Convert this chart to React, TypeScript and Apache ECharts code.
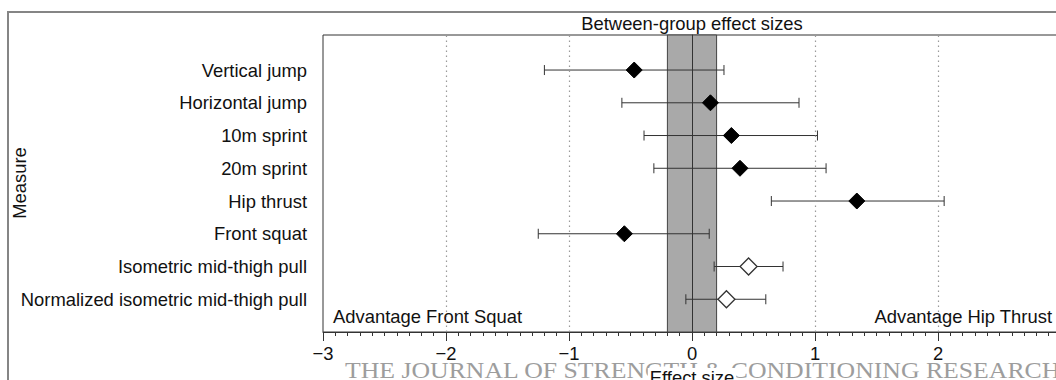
import React, { useEffect, useRef } from "react";
import * as echarts from "echarts";

const categories = [
  "Vertical jump",
  "Horizontal jump",
  "10m sprint",
  "20m sprint",
  "Hip thrust",
  "Front squat",
  "Isometric mid-thigh pull",
  "Normalized isometric mid-thigh pull",
];
const effectSize = [-0.47, 0.15, 0.32, 0.39, 1.34, -0.55, 0.46, 0.28];
const lowerCI = [-1.2, -0.57, -0.39, -0.31, 0.645, -1.25, 0.18, -0.05];
const upperCI = [0.26, 0.87, 1.02, 1.09, 2.05, 0.14, 0.74, 0.6];
const openMarker = [false, false, false, false, false, false, true, true];
const referenceLines = [-2, -1, 1, 2];
const trivialBand = [-0.2, 0.2];
const xRange = [-3, 3];

const titleText = "Between-group effect sizes";
const xName = "Effect size";
const yName = "Measure";
const leftNote = "Advantage Front Squat";
const rightNote = "Advantage Hip Thrust";
const watermark = "THE JOURNAL OF STRENGTH & CONDITIONING RESEARCH";

const FONT = "'Liberation Sans', Arial, Helvetica, sans-serif";
const FS = 18.4;

export default function App() {
  const ref = useRef<HTMLDivElement>(null);

  useEffect(() => {
    if (!ref.current) return;
    const chart = echarts.init(ref.current, undefined, { renderer: "svg" });
    const n = categories.length;
    const yOf = (i: number) => n - i;
    const positions = categories.map((_, i) => yOf(i));

    const errData = categories.map((_, i) => [lowerCI[i], upperCI[i], yOf(i)]);
    const filled = categories
      .map((_, i) => (openMarker[i] ? null : [effectSize[i], yOf(i)]))
      .filter((d) => d !== null);
    const open = categories
      .map((_, i) => (openMarker[i] ? [effectSize[i], yOf(i)] : null))
      .filter((d) => d !== null);

    const fmt = (v: number) =>
      v >= xRange[1] ? "" : v < 0 ? "\u2212" + Math.abs(v) : String(v);

    chart.setOption({
      animation: false,
      textStyle: { fontFamily: FONT },
      grid: {
        left: 323,
        top: 35,
        right: -5,
        bottom: 48,
        containLabel: false,
        outerBoundsMode: "none",
        show: true,
        borderColor: "#333",
        borderWidth: 1,
        backgroundColor: "transparent",
      },
      xAxis: {
        type: "value",
        min: xRange[0],
        max: xRange[1],
        interval: 1,
        axisLine: { show: true, lineStyle: { color: "#333", width: 1 } },
        axisTick: { show: true, length: 9, lineStyle: { color: "#333" } },
        minorTick: { show: true, splitNumber: 10, length: 4, lineStyle: { color: "#333" } },
        splitLine: { show: false },
        axisLabel: {
          formatter: fmt,
          fontSize: FS,
          color: "#111",
          margin: 12,
          fontFamily: FONT,
          showMaxLabel: false,
        },
      },
      yAxis: {
        type: "value",
        min: 0,
        max: 9.07,
        interval: 1,
        axisLine: { show: true, lineStyle: { color: "#333", width: 1 } },
        axisTick: {
          show: true,
          length: 11,
          customValues: positions,
          lineStyle: { color: "#333" },
        },
        splitLine: { show: false },
        axisLabel: {
          customValues: positions,
          formatter: (v: number) => categories[n - Math.round(v)] ?? "",
          fontSize: FS,
          color: "#111",
          margin: 16,
          fontFamily: FONT,
        },
      },
      series: [
        {
          type: "line",
          data: [],
          z: 1,
          silent: true,
          markArea: {
            silent: true,
            itemStyle: { color: "#a9a9a9", borderColor: "#444", borderWidth: 1 },
            data: [[{ xAxis: trivialBand[0] }, { xAxis: trivialBand[1] }]],
          },
          markLine: {
            silent: true,
            symbol: ["none", "none"],
            label: { show: false },
            data: [
              ...referenceLines.map((v) => ({
                xAxis: v,
                lineStyle: { type: [1.5, 3.5], color: "#9a9a9a", width: 1.2 },
              })),
              { xAxis: 0, lineStyle: { type: "solid", color: "#333", width: 1 } },
            ],
          },
        },
        {
          type: "custom",
          z: 3,
          data: errData,
          encode: { x: [0, 1], y: 2 },
          renderItem: (params: any, api: any) => {
            const lo = api.coord([api.value(0), api.value(2)]);
            const hi = api.coord([api.value(1), api.value(2)]);
            const h = 5;
            const st = { stroke: "#333", lineWidth: 1 };
            return {
              type: "group",
              children: [
                { type: "line", shape: { x1: lo[0], y1: lo[1], x2: hi[0], y2: hi[1] }, style: st },
                { type: "line", shape: { x1: lo[0], y1: lo[1] - h, x2: lo[0], y2: lo[1] + h }, style: st },
                { type: "line", shape: { x1: hi[0], y1: hi[1] - h, x2: hi[0], y2: hi[1] + h }, style: st },
              ],
            };
          },
        },
        {
          type: "scatter",
          z: 4,
          symbol: "diamond",
          symbolSize: [16, 16],
          data: filled,
          itemStyle: { color: "#000", borderColor: "#000", borderWidth: 1, opacity: 1 },
        },
        {
          type: "scatter",
          z: 4,
          symbol: "diamond",
          symbolSize: [17, 17],
          data: open,
          itemStyle: { color: "#fff", borderColor: "#333", borderWidth: 1.3, opacity: 1 },
        },
      ],
      graphic: [
        {
          type: "rect",
          z: 0,
          silent: true,
          shape: { x: 8, y: 12, width: 1100, height: 420 },
          style: { fill: "none", stroke: "#858585", lineWidth: 2 },
        },
        {
          type: "text",
          x: 692,
          y: 23,
          style: {
            text: titleText,
            fontSize: FS,
            fontFamily: FONT,
            fill: "#111",
            textAlign: "center",
            textVerticalAlign: "middle",
          },
        },
        {
          type: "text",
          x: 19,
          y: 183,
          rotation: Math.PI / 2,
          style: {
            text: yName,
            fontSize: FS,
            fontFamily: FONT,
            fill: "#111",
            textAlign: "center",
            textVerticalAlign: "middle",
          },
        },
        {
          type: "text",
          x: 333,
          y: 316,
          style: {
            text: leftNote,
            fontSize: FS,
            fontFamily: FONT,
            fill: "#111",
            textAlign: "left",
            textVerticalAlign: "middle",
          },
        },
        {
          type: "text",
          x: 1052,
          y: 316,
          style: {
            text: rightNote,
            fontSize: FS,
            fontFamily: FONT,
            fill: "#111",
            textAlign: "right",
            textVerticalAlign: "middle",
          },
        },
        {
          type: "text",
          x: 345,
          y: 370,
          scaleX: 1.073,
          silent: true,
          style: {
            text: watermark,
            fontSize: 24,
            fontFamily: "'Liberation Serif', 'Times New Roman', serif",
            fill: "#9d9d9d",
            textAlign: "left",
            textVerticalAlign: "middle",
          },
        },
        {
          type: "text",
          x: 692,
          y: 377,
          style: {
            text: xName,
            fontSize: FS,
            fontFamily: FONT,
            fill: "#111",
            textAlign: "center",
            textVerticalAlign: "middle",
            backgroundColor: "#fff",
            padding: [0, 2],
          },
        },
      ],
    });

    return () => chart.dispose();
  }, []);

  return (
    <div
      ref={ref}
      style={{ position: "fixed", left: 0, top: 0, width: 1056, height: 380, background: "#fff" }}
    />
  );
}
